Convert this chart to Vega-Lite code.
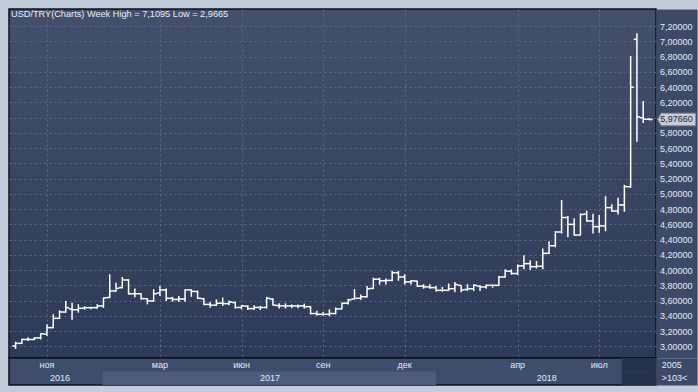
{
  "$schema": "https://vega.github.io/schema/vega-lite/v6.json",
  "background": "#c1cddb",
  "padding": {"left": 8, "top": 8, "right": 2, "bottom": 8},
  "spacing": 0,
  "bounds": "flush",
  "config": {
    "font": "Liberation Sans",
    "locale": {"number": {"decimal": ",", "thousands": " ", "grouping": [3], "currency": ["", ""]}}
  },
  "data": {"values": [
    {"i":0,"o":3.004,"h":3.06,"l":2.9665,"c":3.039},
    {"i":1,"o":3.039,"h":3.10,"l":3.03,"c":3.09},
    {"i":2,"o":3.09,"h":3.12,"l":3.07,"c":3.09},
    {"i":3,"o":3.09,"h":3.12,"l":3.08,"c":3.11},
    {"i":4,"o":3.11,"h":3.17,"l":3.09,"c":3.165},
    {"i":5,"o":3.16,"h":3.29,"l":3.135,"c":3.245},
    {"i":6,"o":3.245,"h":3.42,"l":3.236,"c":3.367},
    {"i":7,"o":3.367,"h":3.472,"l":3.36,"c":3.45},
    {"i":8,"o":3.45,"h":3.594,"l":3.441,"c":3.507},
    {"i":9,"o":3.49,"h":3.572,"l":3.35,"c":3.48},
    {"i":10,"o":3.48,"h":3.551,"l":3.441,"c":3.498},
    {"i":11,"o":3.50,"h":3.525,"l":3.48,"c":3.507},
    {"i":12,"o":3.507,"h":3.52,"l":3.485,"c":3.507},
    {"i":13,"o":3.507,"h":3.551,"l":3.494,"c":3.529},
    {"i":14,"o":3.53,"h":3.64,"l":3.505,"c":3.635},
    {"i":15,"o":3.64,"h":3.945,"l":3.635,"c":3.726},
    {"i":16,"o":3.726,"h":3.835,"l":3.717,"c":3.761},
    {"i":17,"o":3.77,"h":3.91,"l":3.76,"c":3.87},
    {"i":18,"o":3.87,"h":3.88,"l":3.68,"c":3.69},
    {"i":19,"o":3.69,"h":3.76,"l":3.645,"c":3.69},
    {"i":20,"o":3.69,"h":3.695,"l":3.615,"c":3.625},
    {"i":21,"o":3.625,"h":3.63,"l":3.55,"c":3.595},
    {"i":22,"o":3.595,"h":3.75,"l":3.585,"c":3.69},
    {"i":23,"o":3.70,"h":3.79,"l":3.66,"c":3.74},
    {"i":24,"o":3.74,"h":3.76,"l":3.595,"c":3.63},
    {"i":25,"o":3.63,"h":3.65,"l":3.585,"c":3.615},
    {"i":26,"o":3.615,"h":3.66,"l":3.58,"c":3.62},
    {"i":27,"o":3.62,"h":3.75,"l":3.585,"c":3.74},
    {"i":28,"o":3.74,"h":3.75,"l":3.65,"c":3.72},
    {"i":29,"o":3.72,"h":3.73,"l":3.62,"c":3.63},
    {"i":30,"o":3.625,"h":3.635,"l":3.54,"c":3.55},
    {"i":31,"o":3.55,"h":3.58,"l":3.505,"c":3.54},
    {"i":32,"o":3.54,"h":3.615,"l":3.53,"c":3.565},
    {"i":33,"o":3.565,"h":3.64,"l":3.53,"c":3.56},
    {"i":34,"o":3.56,"h":3.60,"l":3.54,"c":3.58},
    {"i":35,"o":3.575,"h":3.585,"l":3.495,"c":3.51},
    {"i":36,"o":3.51,"h":3.54,"l":3.485,"c":3.53},
    {"i":37,"o":3.525,"h":3.54,"l":3.475,"c":3.495},
    {"i":38,"o":3.495,"h":3.54,"l":3.475,"c":3.51},
    {"i":39,"o":3.51,"h":3.53,"l":3.475,"c":3.51},
    {"i":40,"o":3.51,"h":3.65,"l":3.495,"c":3.63},
    {"i":41,"o":3.62,"h":3.63,"l":3.535,"c":3.54},
    {"i":42,"o":3.535,"h":3.565,"l":3.495,"c":3.53},
    {"i":43,"o":3.53,"h":3.565,"l":3.495,"c":3.53},
    {"i":44,"o":3.53,"h":3.55,"l":3.50,"c":3.53},
    {"i":45,"o":3.53,"h":3.55,"l":3.50,"c":3.53},
    {"i":46,"o":3.53,"h":3.56,"l":3.495,"c":3.52},
    {"i":47,"o":3.52,"h":3.53,"l":3.42,"c":3.43},
    {"i":48,"o":3.43,"h":3.465,"l":3.40,"c":3.42},
    {"i":49,"o":3.42,"h":3.45,"l":3.40,"c":3.42},
    {"i":50,"o":3.42,"h":3.485,"l":3.395,"c":3.43},
    {"i":51,"o":3.43,"h":3.51,"l":3.42,"c":3.49},
    {"i":52,"o":3.49,"h":3.575,"l":3.485,"c":3.565},
    {"i":53,"o":3.565,"h":3.625,"l":3.55,"c":3.61},
    {"i":54,"o":3.62,"h":3.75,"l":3.615,"c":3.63},
    {"i":55,"o":3.63,"h":3.68,"l":3.61,"c":3.65},
    {"i":56,"o":3.65,"h":3.79,"l":3.64,"c":3.755},
    {"i":57,"o":3.76,"h":3.90,"l":3.75,"c":3.88},
    {"i":58,"o":3.88,"h":3.90,"l":3.81,"c":3.86},
    {"i":59,"o":3.86,"h":3.89,"l":3.81,"c":3.865},
    {"i":60,"o":3.865,"h":3.99,"l":3.855,"c":3.965},
    {"i":61,"o":3.965,"h":3.99,"l":3.86,"c":3.91},
    {"i":62,"o":3.91,"h":3.945,"l":3.81,"c":3.845},
    {"i":63,"o":3.845,"h":3.87,"l":3.81,"c":3.857},
    {"i":64,"o":3.857,"h":3.86,"l":3.78,"c":3.79},
    {"i":65,"o":3.79,"h":3.815,"l":3.755,"c":3.78},
    {"i":66,"o":3.78,"h":3.815,"l":3.755,"c":3.77},
    {"i":67,"o":3.77,"h":3.79,"l":3.715,"c":3.735},
    {"i":68,"o":3.735,"h":3.78,"l":3.715,"c":3.735},
    {"i":69,"o":3.735,"h":3.825,"l":3.725,"c":3.756},
    {"i":70,"o":3.756,"h":3.845,"l":3.71,"c":3.81},
    {"i":71,"o":3.80,"h":3.805,"l":3.71,"c":3.74},
    {"i":72,"o":3.745,"h":3.815,"l":3.725,"c":3.755},
    {"i":73,"o":3.755,"h":3.815,"l":3.725,"c":3.80},
    {"i":74,"o":3.79,"h":3.80,"l":3.725,"c":3.778},
    {"i":75,"o":3.78,"h":3.813,"l":3.756,"c":3.80},
    {"i":76,"o":3.80,"h":3.813,"l":3.77,"c":3.80},
    {"i":77,"o":3.80,"h":3.923,"l":3.79,"c":3.909},
    {"i":78,"o":3.909,"h":4.01,"l":3.90,"c":3.988},
    {"i":79,"o":3.985,"h":4.01,"l":3.94,"c":3.955},
    {"i":80,"o":3.955,"h":4.075,"l":3.935,"c":4.055},
    {"i":81,"o":4.055,"h":4.195,"l":4.01,"c":4.085},
    {"i":82,"o":4.085,"h":4.13,"l":4.0,"c":4.045},
    {"i":83,"o":4.045,"h":4.12,"l":4.02,"c":4.05},
    {"i":84,"o":4.05,"h":4.285,"l":4.01,"c":4.22},
    {"i":85,"o":4.22,"h":4.38,"l":4.21,"c":4.32},
    {"i":86,"o":4.32,"h":4.51,"l":4.30,"c":4.50},
    {"i":87,"o":4.50,"h":4.92,"l":4.48,"c":4.69},
    {"i":88,"o":4.69,"h":4.71,"l":4.43,"c":4.60},
    {"i":89,"o":4.60,"h":4.68,"l":4.455,"c":4.46},
    {"i":90,"o":4.46,"h":4.745,"l":4.455,"c":4.73},
    {"i":91,"o":4.735,"h":4.78,"l":4.635,"c":4.645},
    {"i":92,"o":4.645,"h":4.74,"l":4.48,"c":4.57},
    {"i":93,"o":4.57,"h":4.725,"l":4.49,"c":4.58},
    {"i":94,"o":4.58,"h":4.97,"l":4.51,"c":4.82},
    {"i":95,"o":4.82,"h":4.865,"l":4.765,"c":4.775},
    {"i":96,"o":4.775,"h":4.95,"l":4.73,"c":4.855},
    {"i":97,"o":4.855,"h":5.12,"l":4.765,"c":5.095},
    {"i":98,"o":5.095,"h":6.81,"l":5.08,"c":6.40},
    {"i":99,"o":7.03,"h":7.1095,"l":5.685,"c":6.01},
    {"i":100,"o":6.0,"h":6.22,"l":5.93,"c":5.98},
    {"i":101,"o":5.98,"h":5.995,"l":5.965,"c":5.9766}
  ]},
  "vconcat": [
    {
      "width": 647,
      "height": 349,
      "view": {
        "fill": {"gradient": "linear", "x1": 0, "y1": 0, "x2": 0, "y2": 1,
          "stops": [{"offset": 0, "color": "#434f6b"}, {"offset": 1, "color": "#2d3a57"}]},
        "stroke": "#0c111c",
        "strokeWidth": 1.5
      },
      "title": {
        "text": "USD/TRY(Charts) Week High = 7,1095 Low = 2,9665",
        "anchor": "start", "frame": "group", "offset": -17.5, "baseline": "alphabetic", "dx": 2,
        "font": "Liberation Sans", "fontSize": 9.2, "fontWeight": "normal", "color": "#e8eef7"
      },
      "resolve": {"axis": {"y": "independent"}},
      "encoding": {
        "x": {"field": "i", "type": "quantitative",
          "scale": {"domain": [-1.05, 102.04], "nice": false, "zero": false},
          "axis": {"values": [5, 23, 36, 49, 62, 80, 93], "labels": false, "ticks": false, "domain": false,
            "grid": true, "gridColor": "#5a6886", "gridDash": [2, 3], "gridWidth": 1, "title": null}}
      },
      "layer": [
        {
          "mark": {"type": "rule", "color": "#ffffff", "strokeWidth": 1.5},
          "encoding": {
            "y": {"field": "l", "type": "quantitative",
              "scale": {"domain": [2.8465, 7.4265], "nice": false, "zero": false},
              "axis": {"orient": "right", "title": null,
                "values": [3, 3.2, 3.4, 3.6, 3.8, 4, 4.2, 4.4, 4.6, 4.8, 5, 5.2, 5.4, 5.6, 5.8, 6, 6.2, 6.4, 6.6, 6.8, 7, 7.2],
                "labels": false, "ticks": false,
                "domain": true, "domainColor": "#3c4a67", "domainWidth": 41, "domainCap": "butt",
                "offset": 20.5,
                "grid": true, "gridColor": "#5a6886", "gridDash": [2, 3], "gridWidth": 1}},
            "y2": {"field": "h"}
          }
        },
        {
          "mark": {"type": "rule", "color": "#ffffff", "strokeWidth": 1.5, "x2Offset": -3.2},
          "encoding": {"x2": {"field": "i"},
            "y": {"field": "o", "type": "quantitative",
              "axis": {"orient": "right", "title": null, "zindex": 1,
                "values": [3, 3.2, 3.4, 3.6, 3.8, 4, 4.2, 4.4, 4.6, 4.8, 5, 5.2, 5.4, 5.6, 5.8, 6, 6.2, 6.4, 6.6, 6.8, 7, 7.2],
                "labelExpr": "datum.value == 6 ? '' : replace(format(datum.value, '.5f'), '.', ',')",
                "labelFont": "Liberation Sans", "labelFontSize": 9, "labelColor": "#e3eaf5",
                "labelAlign": "left", "labelBaseline": "middle", "labelPadding": 3.5,
                "labelOverlap": false, "labelFlush": false,
                "ticks": false, "domain": false, "grid": false}}}
        },
        {
          "mark": {"type": "rule", "color": "#ffffff", "strokeWidth": 1.5, "x2Offset": 3.2},
          "encoding": {"x2": {"field": "i"}, "y": {"field": "c", "type": "quantitative", "axis": null}}
        },
        {
          "transform": [{"filter": "datum.i == 101"}],
          "mark": {"type": "point", "shape": "M-1,0L-0.82,-0.33L1,-0.33L1,0.33L-0.82,0.33Z", "size": 1444,
            "filled": true, "fill": "#c9ced6", "stroke": "#7d8699", "strokeWidth": 1, "opacity": 1, "xOffset": 27.2},
          "encoding": {"y": {"field": "c", "type": "quantitative", "axis": null}}
        },
        {
          "transform": [{"filter": "datum.i == 101"}],
          "mark": {"type": "text", "align": "left", "baseline": "middle", "dx": 10.8,
            "font": "Liberation Sans", "fontSize": 9, "color": "#1b2333"},
          "encoding": {"y": {"field": "c", "type": "quantitative", "axis": null},
            "text": {"field": "c", "type": "quantitative", "format": ".5f"}}
        }
      ]
    },
    {
      "width": 647,
      "height": 27,
      "view": {"fill": "#3e4d6b", "stroke": "#0c111c", "strokeWidth": 1.5},
      "resolve": {"axis": {"y": "independent"}},
      "data": {"values": [
        {"kind": "band", "row": "y", "start": 13.88, "end": 66.99, "tone": "light"},
        {"kind": "band", "row": "m", "start": 96.6, "end": 102.04, "tone": "dark"},
        {"kind": "band", "row": "y", "start": 96.6, "end": 102.04, "tone": "dark"},
        {"kind": "label", "row": "m", "at": 5, "label": "ноя"},
        {"kind": "label", "row": "m", "at": 23, "label": "мар"},
        {"kind": "label", "row": "m", "at": 36, "label": "июн"},
        {"kind": "label", "row": "m", "at": 49, "label": "сен"},
        {"kind": "label", "row": "m", "at": 62, "label": "дек"},
        {"kind": "label", "row": "m", "at": 80, "label": "апр"},
        {"kind": "label", "row": "m", "at": 93, "label": "июл"},
        {"kind": "label", "row": "y", "at": 7.07, "label": "2016"},
        {"kind": "label", "row": "y", "at": 40.54, "label": "2017"},
        {"kind": "label", "row": "y", "at": 84.63, "label": "2018"}
      ]},
      "layer": [
        {
          "transform": [{"filter": "datum.kind == 'band'"}],
          "mark": {"type": "rect"},
          "encoding": {
            "x": {"field": "start", "type": "quantitative",
              "scale": {"domain": [-1.05, 102.04], "nice": false, "zero": false}, "axis": null},
            "x2": {"field": "end"},
            "y": {"field": "row", "type": "nominal",
              "scale": {"domain": ["m", "y"], "paddingInner": 0, "paddingOuter": 0},
              "axis": {"orient": "right", "title": null, "labels": false, "ticks": false, "grid": false,
                "domain": true, "domainColor": "#3c4a67", "domainWidth": 41, "domainCap": "butt", "offset": 20.5}},
            "color": {"field": "tone", "type": "nominal",
              "scale": {"domain": ["light", "dark"], "range": ["#4d5c7a", "#26324c"]}, "legend": null}
          }
        },
        {
          "transform": [{"filter": "datum.kind == 'label'"}],
          "mark": {"type": "text", "font": "Liberation Sans", "fontSize": 9, "color": "#e3eaf5", "baseline": "middle"},
          "encoding": {
            "x": {"field": "at", "type": "quantitative"},
            "y": {"field": "row", "type": "nominal",
              "axis": {"orient": "right", "title": null, "zindex": 1,
                "labelExpr": "datum.value == 'm' ? '2005' : '>103<'",
                "labelFont": "Liberation Sans", "labelFontSize": 9, "labelColor": "#e3eaf5",
                "labelAlign": "left", "labelBaseline": "middle", "labelPadding": 5.25,
                "labelFlush": false, "labelOverlap": false, "labelBound": false,
                "ticks": false, "domain": false, "grid": false}},
            "text": {"field": "label", "type": "nominal"}
          }
        }
      ]
    }
  ]
}
